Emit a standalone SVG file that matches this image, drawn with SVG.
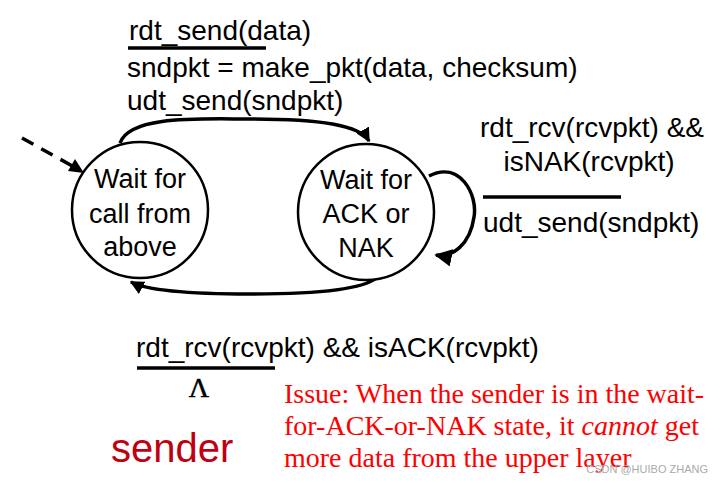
<svg xmlns="http://www.w3.org/2000/svg" width="725" height="483" viewBox="0 0 725 483">
<style>
.t{font-family:"Liberation Sans",Arial,sans-serif;font-size:28px;fill:#000}
.st{font-family:"Liberation Sans",Arial,sans-serif;font-size:27px;fill:#000;text-anchor:middle}
.node{fill:#fff;stroke:#000;stroke-width:2.5}
.edge{fill:none;stroke:#000;stroke-width:3.5}
.bar{stroke:#000;stroke-width:3.5}
.issue{font-family:"Liberation Serif","Times New Roman",serif;font-size:28px;fill:#ff0000}
</style>
<defs>
<marker id="ah" viewBox="0 0 10 10" refX="9" refY="5" markerWidth="4" markerHeight="4" orient="auto" markerUnits="strokeWidth">
<path d="M0,0 L10,5 L0,10 z" fill="#000"/>
</marker>
<marker id="ah2" viewBox="0 0 10 10" refX="9" refY="5" markerWidth="5" markerHeight="5" orient="auto" markerUnits="strokeWidth">
<path d="M0,0 L10,5 L0,10 z" fill="#000"/>
</marker>
</defs>
<rect width="725" height="483" fill="#fff"/>
<g id="connectors">
<path class="edge" d="M120,143 C130,115 200,119 250,119 C320,119 360,125 369,141" marker-end="url(#ah)"/>
<path class="edge" d="M376,278 C360,292 300,294 250,294 C190,294 148,291 131,282" marker-end="url(#ah)"/>
<path class="edge" d="M429,176 C460,160 478,195 474,217 C470,245 452,258 436,255" stroke-width="2.5" marker-end="url(#ah2)"/>
<path class="edge" d="M22,138 L76,168" stroke-dasharray="13,9" stroke-width="4.5"/>
<path d="M84,173 L68,171 L75,159 z" fill="#000"/>
</g>
<g id="state-wait-call">
<circle class="node" cx="140" cy="210" r="68"/>
<text class="st" x="140" y="188">Wait for</text>
<text class="st" x="140" y="223">call from</text>
<text class="st" x="140" y="256">above</text>
</g>
<g id="state-wait-ack">
<circle class="node" cx="366" cy="212" r="68"/>
<text class="st" x="366" y="189">Wait for</text>
<text class="st" x="366" y="223">ACK or</text>
<text class="st" x="366" y="257">NAK</text>
</g>
<g id="label-send">
<text class="t" x="129" y="40">rdt_send(data)</text>
<line class="bar" x1="128" y1="48" x2="266" y2="48"/>
<text class="t" x="127" y="77">sndpkt = make_pkt(data, checksum)</text>
<text class="t" x="127" y="110">udt_send(sndpkt)</text>
</g>
<g id="label-nak">
<text class="t" x="592" y="137" text-anchor="middle">rdt_rcv(rcvpkt) &amp;&amp;</text>
<text class="t" x="589" y="171" text-anchor="middle">isNAK(rcvpkt)</text>
<line class="bar" x1="483" y1="197" x2="621" y2="197"/>
<text class="t" x="483" y="232">udt_send(sndpkt)</text>
</g>
<g id="label-ack">
<text class="t" x="136" y="357">rdt_rcv(rcvpkt) &amp;&amp; isACK(rcvpkt)</text>
<line class="bar" x1="137" y1="368" x2="275" y2="368"/>
<text x="199" y="397" font-family="'Liberation Serif','Times New Roman',serif" font-size="28" text-anchor="middle" fill="#000" stroke="#000" stroke-width="0.5">Λ</text>
</g>
<text x="111" y="462" font-family="'Liberation Sans',Arial,sans-serif" font-size="40" fill="#c00010">sender</text>
<g id="issue">
<text class="issue" x="284" y="403">Issue: When the sender is in the wait-</text>
<text class="issue" x="284" y="435">for-ACK-or-NAK state, it <tspan font-style="italic">cannot</tspan> get</text>
<text class="issue" x="284" y="467">more data from the upper layer</text>
</g>
<text x="708" y="473" font-family="'Liberation Sans',Arial,sans-serif" font-size="11" fill="#aaaaaa" text-anchor="end">CSDN @HUIBO ZHANG</text>
</svg>
